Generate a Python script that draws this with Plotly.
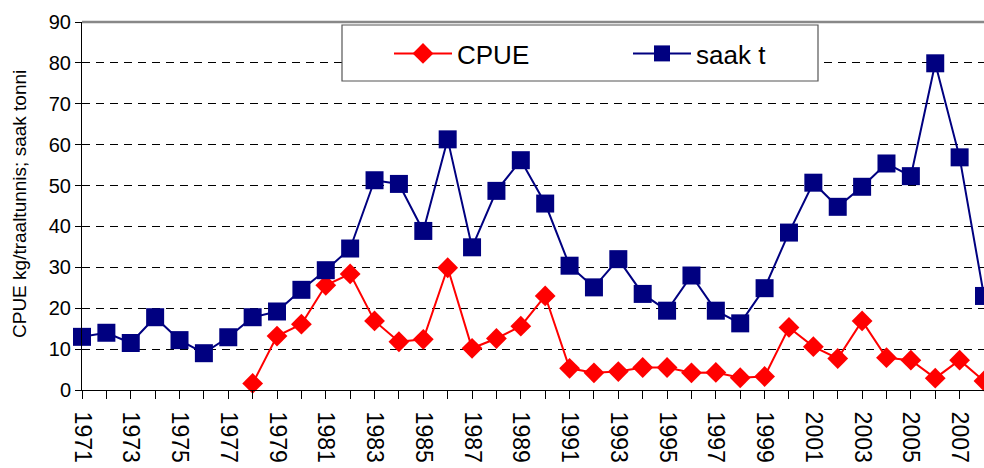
import plotly.graph_objects as go

years = list(range(1971, 2009))
saak_t = [13.0, 14.0, 11.5, 17.8, 12.2, 9.0, 12.9, 17.8, 19.2, 24.5,
          29.3, 34.6, 51.3, 50.4, 38.9, 61.3, 34.9, 48.7, 56.2, 45.6,
          30.4, 25.1, 32.0, 23.5, 19.4, 28.0, 19.4, 16.3, 24.9, 38.5,
          50.7, 44.8, 49.7, 55.4, 52.3, 79.9, 56.9, 23.0]
cpue_years = list(range(1978, 2009))
cpue = [1.6, 13.2, 16.1, 25.6, 28.4, 16.9, 11.8, 12.4, 29.9, 10.2,
        12.6, 15.6, 23.0, 5.3, 4.2, 4.5, 5.5, 5.5, 4.2, 4.3,
        3.0, 3.3, 15.3, 10.6, 7.7, 16.9, 7.9, 7.3, 2.9, 7.3, 2.2]
tick_labels = [str(y) if y % 2 == 1 else "" for y in years]
y_ticks = list(range(0, 100, 10))
y_title = "CPUE kg/traaltunnis; saak tonni"

FONT = "Liberation Sans, Arial, sans-serif"

fig = go.Figure()
fig.add_trace(go.Scatter(
    x=cpue_years, y=cpue, name="CPUE", mode="lines+markers",
    line=dict(color="#FF0000", width=2),
    marker=dict(symbol="diamond", size=16, color="#FF0000"),
    cliponaxis=False,
))
fig.add_trace(go.Scatter(
    x=years, y=saak_t, name="saak t", mode="lines+markers",
    line=dict(color="#000080", width=2),
    marker=dict(symbol="square", size=18, color="#000080"),
    cliponaxis=False,
))

L, T, B = 82, 22, 78
W, H = 984, 468
pw, ph = W - L, H - T - B

def px(xp):
    return (xp - L) / pw

def py(yp):
    return (H - B - yp) / ph

fig.update_layout(
    width=W, height=H, autosize=False,
    margin=dict(l=L, r=0, t=T, b=B, pad=0),
    paper_bgcolor="white", plot_bgcolor="white",
    font=dict(family=FONT, color="black", size=19),
    showlegend=True,
    legend=dict(
        orientation="h", x=px(389), y=py(30), xanchor="left", yanchor="top",
        bgcolor="rgba(0,0,0,0)", borderwidth=0,
        font=dict(size=26, family=FONT),
        itemwidth=58, entrywidth=166, traceorder="normal",
    ),
    xaxis=dict(
        range=[1971, 2008], tickvals=years, ticktext=tick_labels,
        tickangle=90, tickfont=dict(size=23), automargin=False,
        ticklabelstandoff=8,
        ticks="outside", ticklen=8, tickcolor="black", tickwidth=1,
        showline=True, linecolor="black", linewidth=1,
        showgrid=False, zeroline=False,
    ),
    yaxis=dict(
        range=[0, 90], tickvals=y_ticks, tickfont=dict(size=20),
        automargin=False,
        ticks="outside", ticklen=6, tickcolor="black", tickwidth=1,
        showline=True, linecolor="black", linewidth=1,
        showgrid=True, gridcolor="black", gridwidth=1, griddash="8px,6px",
        zeroline=False,
    ),
    annotations=[
        dict(text=y_title, textangle=-90, xref="paper", yref="paper",
             x=px(19), y=py(204), xanchor="center", yanchor="middle",
             showarrow=False, font=dict(size=19, family=FONT, color="black")),
    ],
    shapes=[
        dict(type="line", xref="paper", yref="paper", x0=0, x1=1, y0=1, y1=1,
             line=dict(color="#888888", width=2.5), layer="above"),
        dict(type="rect", xref="paper", yref="paper",
             x0=px(342), x1=px(818), y0=py(81), y1=py(25),
             line=dict(color="#555555", width=1.2), fillcolor="white",
             layer="above"),
    ],
)

fig.write_html(
    "out.html",
    config={"displayModeBar": False},
    post_script="document.body.style.margin='0';document.body.style.overflow='hidden';",
)
